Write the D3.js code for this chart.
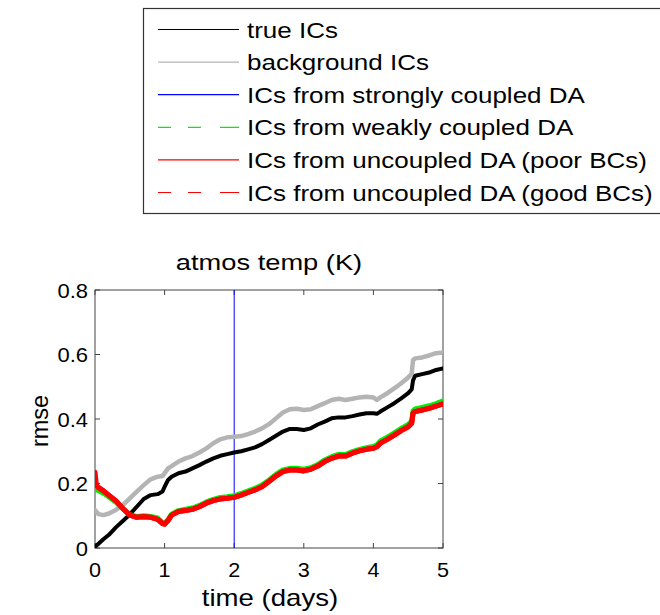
<!DOCTYPE html>
<html><head><meta charset="utf-8">
<script src="https://cdn.jsdelivr.net/npm/d3@7"></script>
<style>
html,body{margin:0;padding:0;background:#fff;}
svg{display:block;font-family:"Liberation Sans",Arial,sans-serif;}
</style></head>
<body>
<svg id="chart" width="660" height="615"></svg>
<script>
// ---------- data ----------
const times = [0,0.02,0.05,0.12,0.2,0.3,0.4,0.5,0.6,0.7,0.8,0.9,0.97,1.0,1.05,1.1,1.2,1.3,1.4,1.5,1.6,1.7,1.8,1.9,2.0,2.1,2.2,2.3,2.4,2.5,2.6,2.7,2.8,2.9,3.0,3.1,3.2,3.3,3.4,3.5,3.6,3.7,3.8,3.9,4.0,4.05,4.1,4.2,4.3,4.4,4.5,4.55,4.57,4.6,4.7,4.8,4.9,5.0];
const trueICs = [0.004,0.008,0.013,0.027,0.041,0.064,0.084,0.104,0.128,0.152,0.164,0.167,0.175,0.19,0.211,0.221,0.232,0.237,0.247,0.257,0.268,0.278,0.286,0.291,0.296,0.300,0.306,0.312,0.322,0.335,0.348,0.361,0.369,0.369,0.366,0.371,0.383,0.392,0.402,0.405,0.405,0.409,0.414,0.418,0.418,0.416,0.423,0.436,0.449,0.464,0.480,0.492,0.520,0.534,0.539,0.544,0.552,0.557];
const backgroundICs = [0.118,0.112,0.105,0.102,0.107,0.118,0.133,0.154,0.175,0.195,0.213,0.221,0.223,0.232,0.247,0.254,0.268,0.278,0.285,0.296,0.309,0.325,0.337,0.343,0.345,0.347,0.353,0.361,0.371,0.384,0.402,0.420,0.430,0.432,0.428,0.430,0.440,0.449,0.459,0.463,0.459,0.463,0.467,0.469,0.467,0.459,0.467,0.480,0.495,0.511,0.529,0.540,0.583,0.588,0.591,0.597,0.604,0.606];
const weaklyCoupled = [0.182,0.180,0.178,0.170,0.158,0.142,0.122,0.103,0.098,0.100,0.098,0.093,0.079,0.077,0.088,0.105,0.116,0.120,0.124,0.132,0.143,0.151,0.157,0.159,0.162,0.169,0.177,0.185,0.195,0.211,0.228,0.242,0.247,0.247,0.244,0.249,0.259,0.273,0.283,0.290,0.290,0.299,0.306,0.311,0.315,0.320,0.332,0.344,0.357,0.371,0.383,0.394,0.426,0.431,0.436,0.441,0.448,0.456];
const uncoupledPoor = [0.235,0.195,0.188,0.178,0.164,0.147,0.123,0.102,0.095,0.097,0.095,0.089,0.076,0.074,0.085,0.102,0.113,0.116,0.120,0.128,0.139,0.147,0.152,0.154,0.157,0.164,0.172,0.180,0.190,0.206,0.223,0.237,0.242,0.242,0.239,0.244,0.254,0.268,0.278,0.285,0.285,0.294,0.301,0.306,0.309,0.314,0.325,0.337,0.350,0.364,0.376,0.387,0.418,0.423,0.428,0.433,0.440,0.447];
const uncoupledGood = [0.200,0.194,0.187,0.177,0.163,0.146,0.122,0.102,0.095,0.097,0.095,0.089,0.076,0.074,0.085,0.102,0.113,0.116,0.120,0.128,0.139,0.147,0.152,0.154,0.157,0.164,0.172,0.180,0.190,0.206,0.223,0.237,0.242,0.242,0.239,0.244,0.254,0.268,0.278,0.285,0.285,0.294,0.301,0.306,0.309,0.314,0.325,0.337,0.350,0.364,0.376,0.387,0.418,0.423,0.428,0.433,0.440,0.447];
const stronglyCoupledMark = [2]; // vertical marker (time, days)
const xTicks = [0,1,2,3,4,5];
const yTicks = [0,0.2,0.4,0.6,0.8];
const yTickLabels = ["0","0.2","0.4","0.6","0.8"];
const legendLabels = ["true ICs","background ICs","ICs from strongly coupled DA","ICs from weakly coupled DA","ICs from uncoupled DA (poor BCs)","ICs from uncoupled DA (good BCs)"];
const titleText = "atmos temp (K)";
const xLabelText = "time (days)";
const yLabelText = "rmse";

// ---------- layout ----------
const svg = d3.select("#chart");
const P = {left:95, right:443, top:290, bottom:548};
const x = d3.scaleLinear().domain([0,5]).range([P.left,P.right]);
const y = d3.scaleLinear().domain([0,0.8]).range([P.bottom,P.top]);

function stext(g, str, tx, ty, size, k, anchor, rot){
  const t = g.append("text")
    .attr("transform", `translate(${tx},${ty})` + (rot?` rotate(${rot})`:"") + ` scale(${k},1)`)
    .attr("font-size", size).attr("fill","#000")
    .attr("text-anchor", anchor||"start").text(str);
  return t;
}

// ---------- legend ----------
const lg = svg.append("g");
lg.append("rect").attr("x",143.5).attr("y",8.5).attr("width",530).attr("height",205)
  .attr("fill","#fff").attr("stroke","#333").attr("stroke-width",1.2);
const legStyles = [
  {c:"#000", d:null},
  {c:"#b4b4b4", d:null},
  {c:"#0000ff", d:null},
  {c:"#00ee00", d:"13,17,13,19,19"},
  {c:"#ff0000", d:null},
  {c:"#ff0000", d:"13,17,13,19,19"}
];
const legY = d3.scaleLinear().domain([0,5]).range([29.5,192.5]);
legendLabels.forEach((lab,i)=>{
  const yy = legY(i);
  lg.append("line").attr("x1",158).attr("x2",239).attr("y1",yy).attr("y2",yy)
    .attr("stroke",legStyles[i].c).attr("stroke-width",1.2)
    .attr("stroke-dasharray",legStyles[i].d);
  stext(lg, lab, 247, yy+8, 22.5, 1.155, "start");
});

// ---------- plot ----------
const pg = svg.append("g");
// title
stext(pg, titleText, 269, 270, 22, 1.24, "middle");
// axis labels
stext(pg, xLabelText, 270, 606, 23, 1.2, "middle");
stext(pg, yLabelText, 48, 421, 23.5, 1.0, "middle", -90);

// frame
pg.append("rect").attr("x",P.left).attr("y",P.top).attr("width",P.right-P.left).attr("height",P.bottom-P.top)
  .attr("fill","none").attr("stroke","#444").attr("stroke-width",1);

// ticks (inward, all sides)
const tl = 5;
const ax = pg.append("g").attr("stroke","#444").attr("stroke-width",1);
xTicks.forEach(v=>{
  ax.append("line").attr("x1",x(v)).attr("x2",x(v)).attr("y1",P.bottom).attr("y2",P.bottom-tl);
  ax.append("line").attr("x1",x(v)).attr("x2",x(v)).attr("y1",P.top).attr("y2",P.top+tl);
});
yTicks.forEach(v=>{
  ax.append("line").attr("y1",y(v)).attr("y2",y(v)).attr("x1",P.left).attr("x2",P.left+tl);
  ax.append("line").attr("y1",y(v)).attr("y2",y(v)).attr("x1",P.right).attr("x2",P.right-tl);
});
// tick labels
xTicks.forEach(v=>{ stext(pg, String(v), x(v), 577, 20, 1.08, "middle"); });
yTicks.forEach((v,i)=>{ stext(pg, yTickLabels[i], 88, y(v)+7.5, 20, 1.1, "end"); });

// curves
const line = d3.line().x(d=>x(d[0])).y(d=>y(d[1]));
const zipS = arr => times.map((t,i)=>[t,arr[i]]);
const clip = svg.append("clipPath").attr("id","pc").append("rect")
  .attr("x",P.left).attr("y",P.top).attr("width",P.right-P.left).attr("height",P.bottom-P.top);
const cg = pg.append("g").attr("clip-path","url(#pc)");

// strongly coupled marker (vertical blue line)
stronglyCoupledMark.forEach(v=>{
  cg.append("line").attr("x1",x(v)).attr("x2",x(v)).attr("y1",y(0)).attr("y2",y(0.8))
    .attr("stroke","#0000ff").attr("stroke-width",1);
});
const series = [
  {d:backgroundICs, c:"#b4b4b4", w:4.5},
  {d:trueICs, c:"#000", w:4},
  {d:weaklyCoupled, c:"#00ee00", w:5},
  {d:uncoupledPoor, c:"#ff0000", w:5},
  {d:uncoupledGood, c:"#ff0000", w:5}
];
series.forEach(s=>{
  cg.append("path").attr("d",line(zipS(s.d))).attr("fill","none")
    .attr("stroke",s.c).attr("stroke-width",s.w).attr("stroke-linejoin","round").attr("stroke-linecap","round");
});
</script>
</body></html>
